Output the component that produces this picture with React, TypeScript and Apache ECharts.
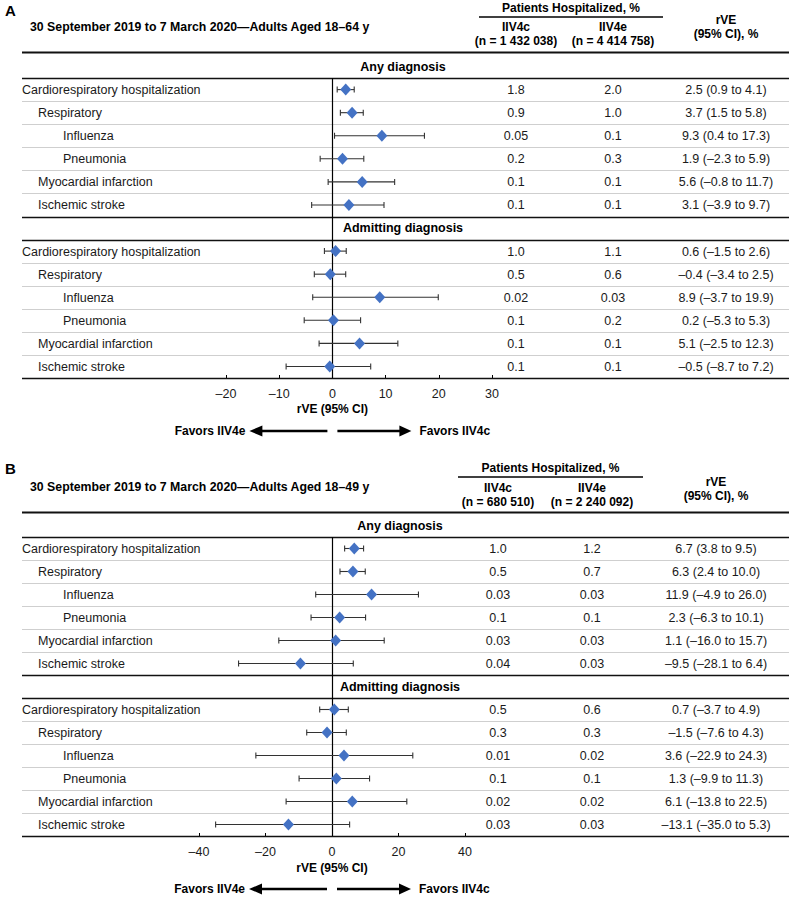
import React, { useEffect, useRef } from 'react';
import * as echarts from 'echarts';

const FONT = '"Liberation Sans", Arial, Helvetica, sans-serif';

// ---------- data ----------
const rowLabels = [
  'Cardiorespiratory hospitalization', 'Respiratory', 'Influenza', 'Pneumonia', 'Myocardial infarction', 'Ischemic stroke',
  'Cardiorespiratory hospitalization', 'Respiratory', 'Influenza', 'Pneumonia', 'Myocardial infarction', 'Ischemic stroke',
];
const rowLevels = [0, 1, 2, 2, 1, 1, 0, 1, 2, 2, 1, 1];
const sectionTitles = ['Any diagnosis', 'Admitting diagnosis'];
const groupHeader = 'Patients Hospitalized, %';
const colNames = ['IIV4c', 'IIV4e'];
const rveHeader = ['rVE', '(95% CI), %'];
const axisTitle = 'rVE (95% CI)';
const favorLabels = ['Favors IIV4e', 'Favors IIV4c'];

const aLetter = 'A';
const aTitle = '30 September 2019 to 7 March 2020\u2014Adults Aged 18\u201364 y';
const aColN = ['(n = 1 432 038)', '(n = 4 414 758)'];
const aIIV4c = ['1.8', '0.9', '0.05', '0.2', '0.1', '0.1', '1.0', '0.5', '0.02', '0.1', '0.1', '0.1'];
const aIIV4e = ['2.0', '1.0', '0.1', '0.3', '0.1', '0.1', '1.1', '0.6', '0.03', '0.2', '0.1', '0.1'];
const aEst = [2.5, 3.7, 9.3, 1.9, 5.6, 3.1, 0.6, -0.4, 8.9, 0.2, 5.1, -0.5];
const aLow = [0.9, 1.5, 0.4, -2.3, -0.8, -3.9, -1.5, -3.4, -3.7, -5.3, -2.5, -8.7];
const aHigh = [4.1, 5.8, 17.3, 5.9, 11.7, 9.7, 2.6, 2.5, 19.9, 5.3, 12.3, 7.2];
const aTicks = { min: -20, max: 30, interval: 10 };

const bLetter = 'B';
const bTitle = '30 September 2019 to 7 March 2020\u2014Adults Aged 18\u201349 y';
const bColN = ['(n = 680 510)', '(n = 2 240 092)'];
const bIIV4c = ['1.0', '0.5', '0.03', '0.1', '0.03', '0.04', '0.5', '0.3', '0.01', '0.1', '0.02', '0.03'];
const bIIV4e = ['1.2', '0.7', '0.03', '0.1', '0.03', '0.03', '0.6', '0.3', '0.02', '0.1', '0.02', '0.03'];
const bEst = [6.7, 6.3, 11.9, 2.3, 1.1, -9.5, 0.7, -1.5, 3.6, 1.3, 6.1, -13.1];
const bLow = [3.8, 2.4, -4.9, -6.3, -16.0, -28.1, -3.7, -7.6, -22.9, -9.9, -13.8, -35.0];
const bHigh = [9.5, 10.0, 26.0, 10.1, 15.7, 6.4, 4.9, 4.3, 24.3, 11.3, 22.5, 5.3];
const bTicks = { min: -40, max: 40, interval: 20 };

// ---------- helpers ----------
const fmt = (v: number) => (v < 0 ? '\u2013' : '') + Math.abs(v).toFixed(1);
const slotOf = (i: number) => (i < 6 ? i + 1 : i + 2);
const NSLOTS = 14;

const BLUE = '#4472C4';
const TXT = '#1a1a1a';
const TABLE_L = 22;
const TABLE_R = 789;
const indent = [0, 16, 41];
const ROW_FS = 12.5;

function panelSeries(gi: number, L: any, c: string[], e: string[], est: number[], low: number[], high: number[]) {
  const rules: number[][] = [[0, L.topRule, 2]];
  for (let s = 1; s <= NSLOTS; s++) {
    const kind = s === 1 || s === 7 || s === 8 || s === 14 ? 1 : 0;
    rules.push([0, s, kind]);
  }
  const common = { xAxisIndex: gi, yAxisIndex: gi, silent: true, animation: false };
  return [
    {
      ...common, type: 'custom', z: 1, clip: false, data: rules,
      renderItem: (_p: any, api: any) => {
        const y = Math.round(api.coord([0, api.value(1)])[1]) + 0.5;
        const k = api.value(2);
        return {
          type: 'line',
          shape: { x1: TABLE_L, y1: y, x2: TABLE_R, y2: y },
          style: { stroke: k ? '#111' : '#cfcfcf', lineWidth: k === 2 ? 1.8 : k === 1 ? 1.4 : 1 },
        };
      },
    },
    {
      ...common, type: 'custom', z: 2, clip: false,
      data: sectionTitles.map((_, i) => [0, (i === 0 ? 0 : 7) + 0.5, i]),
      renderItem: (_p: any, api: any) => {
        const y = api.coord([0, api.value(1)])[1];
        return {
          type: 'text', x: L.secX, y: y,
          style: { text: sectionTitles[api.value(2)], fill: '#000', fontFamily: FONT, fontSize: ROW_FS, fontWeight: 'bold', align: 'center', verticalAlign: 'middle' },
        };
      },
    },
    {
      ...common, type: 'custom', z: 2, clip: false,
      data: rowLabels.map((_, i) => [0, slotOf(i) + 0.5, i]),
      renderItem: (_p: any, api: any) => {
        const i = api.value(2);
        const y = api.coord([0, api.value(1)])[1] + 0.5;
        const st = (text: string, align: string) => ({ text, fill: TXT, fontFamily: FONT, fontSize: ROW_FS, align, verticalAlign: 'middle' });
        return {
          type: 'group',
          children: [
            { type: 'text', x: TABLE_L + indent[rowLevels[i]], y, style: st(rowLabels[i], 'left') },
            { type: 'text', x: L.cX, y, style: st(c[i], 'center') },
            { type: 'text', x: L.eX, y, style: st(e[i], 'center') },
            { type: 'text', x: L.rX, y, style: st(`${fmt(est[i])} (${fmt(low[i])} to ${fmt(high[i])})`, 'center') },
          ],
        };
      },
    },
    {
      ...common, type: 'custom', z: 3, clip: false, data: [[0, 1, 14]],
      renderItem: (_p: any, api: any) => {
        const p1 = api.coord([api.value(0), api.value(1)]);
        const p2 = api.coord([api.value(0), api.value(2)]);
        const x = Math.round(p1[0]) + 0.5;
        return { type: 'line', shape: { x1: x, y1: p1[1], x2: x, y2: p2[1] }, style: { stroke: '#000', lineWidth: 1.2 } };
      },
    },
    {
      ...common, type: 'custom', z: 4, clip: false,
      data: est.map((_, i) => [low[i], high[i], slotOf(i) + 0.5]),
      renderItem: (_p: any, api: any) => {
        const y = api.value(2);
        const a = api.coord([api.value(0), y]);
        const b = api.coord([api.value(1), y]);
        const s = { stroke: '#333', lineWidth: 1.1 };
        return {
          type: 'group',
          children: [
            { type: 'line', shape: { x1: a[0], y1: a[1], x2: b[0], y2: b[1] }, style: s },
            { type: 'line', shape: { x1: a[0], y1: a[1] - 3, x2: a[0], y2: a[1] + 3 }, style: s },
            { type: 'line', shape: { x1: b[0], y1: b[1] - 3, x2: b[0], y2: b[1] + 3 }, style: s },
          ],
        };
      },
    },
    {
      ...common, type: 'scatter', z: 5, symbol: 'diamond', symbolSize: [11, 12],
      itemStyle: { color: BLUE, opacity: 1 },
      data: est.map((v, i) => [v, slotOf(i) + 0.5]),
    },
  ];
}

function panelGraphics(L: any, letter: string, title: string, colN: string[]) {
  const bold = (text: string, x: number, y: number, align = 'center', size = 12) => ({
    type: 'text', x, y, silent: true,
    style: { text, fill: '#000', fontFamily: FONT, fontSize: size, fontWeight: 'bold', align, verticalAlign: 'middle' },
  });
  const zx = L.left + (L.width * (0 - L.min)) / (L.max - L.min);
  const ay = L.arrowY;
  const arrowStyle = { stroke: '#000', lineWidth: 2.6 };
  return [
    bold(letter, 5, L.letterY, 'left', 15),
    bold(title, 30, L.titleY, 'left', 12.3),
    bold(groupHeader, (L.ulX1 + L.ulX2) / 2, L.hdrTop),
    { type: 'line', silent: true, shape: { x1: L.ulX1, y1: L.ulY, x2: L.ulX2, y2: L.ulY }, style: { stroke: '#000', lineWidth: 1.4 } },
    bold(colNames[0], L.cX, L.colY1),
    bold(colN[0], L.cX, L.colY2),
    bold(colNames[1], L.eX, L.colY1),
    bold(colN[1], L.eX, L.colY2),
    bold(rveHeader[0], L.rX, L.rveY1),
    bold(rveHeader[1], L.rX, L.rveY2),
    bold(axisTitle, zx, L.axTitleY),
    { type: 'line', silent: true, shape: { x1: zx - 5, y1: ay, x2: zx - 72, y2: ay }, style: arrowStyle },
    { type: 'polygon', silent: true, shape: { points: [[zx - 83, ay], [zx - 70, ay - 5.5], [zx - 70, ay + 5.5]] }, style: { fill: '#000' } },
    { type: 'line', silent: true, shape: { x1: zx + 5, y1: ay, x2: zx + 70, y2: ay }, style: arrowStyle },
    { type: 'polygon', silent: true, shape: { points: [[zx + 79, ay], [zx + 67, ay - 5.5], [zx + 67, ay + 5.5]] }, style: { fill: '#000' } },
    bold(favorLabels[0], zx - 87, ay, 'right'),
    bold(favorLabels[1], zx + 87, ay, 'left'),
  ];
}

const LA: any = {
  top: 55, height: 323, left: 226, width: 266, min: aTicks.min, max: aTicks.max, topRule: -0.13,
  cX: 516, eX: 613, rX: 726, secX: 403,
  hdrTop: 8, ulX1: 479, ulX2: 663, ulY: 17,
  colY1: 27, colY2: 41, rveY1: 20, rveY2: 34,
  letterY: 10, titleY: 27, axTitleY: 409, arrowY: 431,
};
const LB: any = {
  top: 514, height: 322, left: 199, width: 266, min: bTicks.min, max: bTicks.max, topRule: -0.09,
  cX: 498, eX: 592, rX: 716, secX: 400,
  hdrTop: 468, ulX1: 458, ulX2: 643, ulY: 477,
  colY1: 488, colY2: 502, rveY1: 482, rveY2: 496,
  letterY: 468, titleY: 487, axTitleY: 868, arrowY: 889,
};

function xAxisFor(gi: number, t: { min: number; max: number; interval: number }) {
  return {
    type: 'value', gridIndex: gi, min: t.min, max: t.max, interval: t.interval, position: 'bottom',
    axisLine: { show: true, onZero: false, lineStyle: { color: '#000', width: 1.2 } },
    axisTick: { show: true, inside: true, length: 3, lineStyle: { color: '#000' } },
    splitLine: { show: false },
    axisLabel: { fontFamily: FONT, fontSize: ROW_FS, color: TXT, margin: 9, formatter: (v: number) => (v < 0 ? '\u2013' + Math.abs(v) : String(v)) },
  };
}
function yAxisFor(gi: number) {
  return { type: 'value', gridIndex: gi, min: 0, max: NSLOTS, inverse: true, show: false };
}

export default function App() {
  const ref = useRef<HTMLDivElement>(null);
  useEffect(() => {
    if (!ref.current) return;
    const chart = echarts.init(ref.current, undefined, { renderer: 'svg' });
    chart.setOption({
      animation: false,
      backgroundColor: '#fff',
      textStyle: { fontFamily: FONT },
      grid: [
        { left: LA.left, top: LA.top, width: LA.width, height: LA.height },
        { left: LB.left, top: LB.top, width: LB.width, height: LB.height },
      ],
      xAxis: [xAxisFor(0, aTicks), xAxisFor(1, bTicks)],
      yAxis: [yAxisFor(0), yAxisFor(1)],
      series: [
        ...panelSeries(0, LA, aIIV4c, aIIV4e, aEst, aLow, aHigh),
        ...panelSeries(1, LB, bIIV4c, bIIV4e, bEst, bLow, bHigh),
      ],
      graphic: [
        ...panelGraphics(LA, aLetter, aTitle, aColN),
        ...panelGraphics(LB, bLetter, bTitle, bColN),
      ],
    });
    return () => chart.dispose();
  }, []);
  return <div ref={ref} style={{ position: 'absolute', left: 0, top: 0, width: 789, height: 898 }} />;
}
